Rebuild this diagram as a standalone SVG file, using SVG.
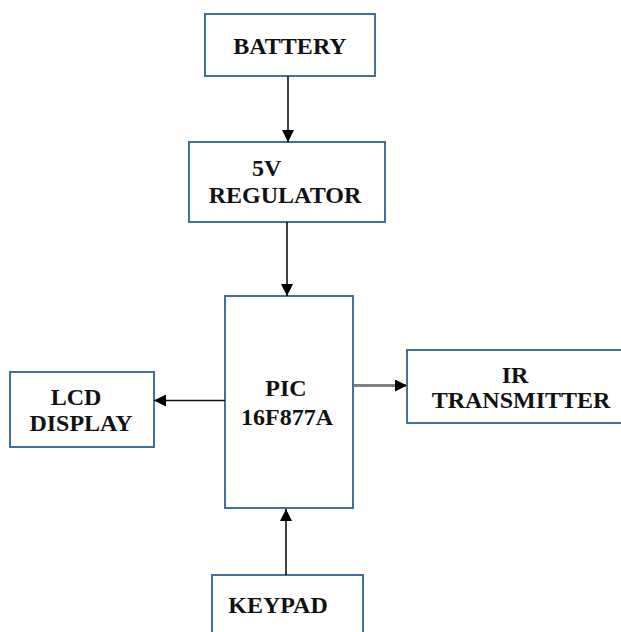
<svg xmlns="http://www.w3.org/2000/svg" width="621" height="632" viewBox="0 0 621 632">
<defs>
<style>
.box{fill:#fff;stroke:#41709C;stroke-width:2}
text{font-family:'Liberation Serif','Times New Roman',serif;font-weight:bold;font-size:24px;fill:#111;text-anchor:middle}
.wire{stroke:#111;stroke-width:1.6;fill:none}
.wire2{stroke:#808080;stroke-width:3;fill:none}
</style>
<marker id="ah" markerUnits="userSpaceOnUse" markerWidth="12" markerHeight="12" viewBox="0 0 12 12" refX="12" refY="6" orient="auto">
<path d="M0,0 L12,6 L0,12 Z" fill="#000"/>
</marker>
</defs>
<rect width="621" height="632" fill="#fff"/>
<g id="battery">
<rect class="box" x="205" y="14" width="170" height="62"/>
<text x="290" y="54">BATTERY</text>
</g>
<g id="regulator">
<rect class="box" x="189" y="142" width="196" height="80"/>
<text x="252" y="176" style="text-anchor:start">5V</text>
<text x="285" y="203">REGULATOR</text>
</g>
<g id="pic">
<rect class="box" x="225" y="296" width="128" height="212"/>
<text x="286" y="396">PIC</text>
<text x="287" y="425">16F877A</text>
</g>
<g id="lcd">
<rect class="box" x="10" y="372" width="144" height="75"/>
<text x="76" y="405">LCD</text>
<text x="81" y="431">DISPLAY</text>
</g>
<g id="ir">
<rect class="box" x="407" y="350" width="230" height="73"/>
<text x="515" y="383">IR</text>
<text x="521" y="408">TRANSMITTER</text>
</g>
<g id="keypad">
<rect class="box" x="212" y="575" width="151" height="80"/>
<text x="278" y="613">KEYPAD</text>
</g>
<g id="connectors">
<line class="wire" x1="288" y1="76" x2="288" y2="142" marker-end="url(#ah)"/>
<line class="wire" x1="287" y1="222" x2="287" y2="296" marker-end="url(#ah)"/>
<line class="wire" x1="225" y1="400.5" x2="154" y2="400.5" marker-end="url(#ah)"/>
<line class="wire2" x1="354" y1="385.5" x2="407" y2="385.5" marker-end="url(#ah)"/>
<line class="wire" x1="286" y1="575" x2="286" y2="509" marker-end="url(#ah)"/>
</g>
</svg>
